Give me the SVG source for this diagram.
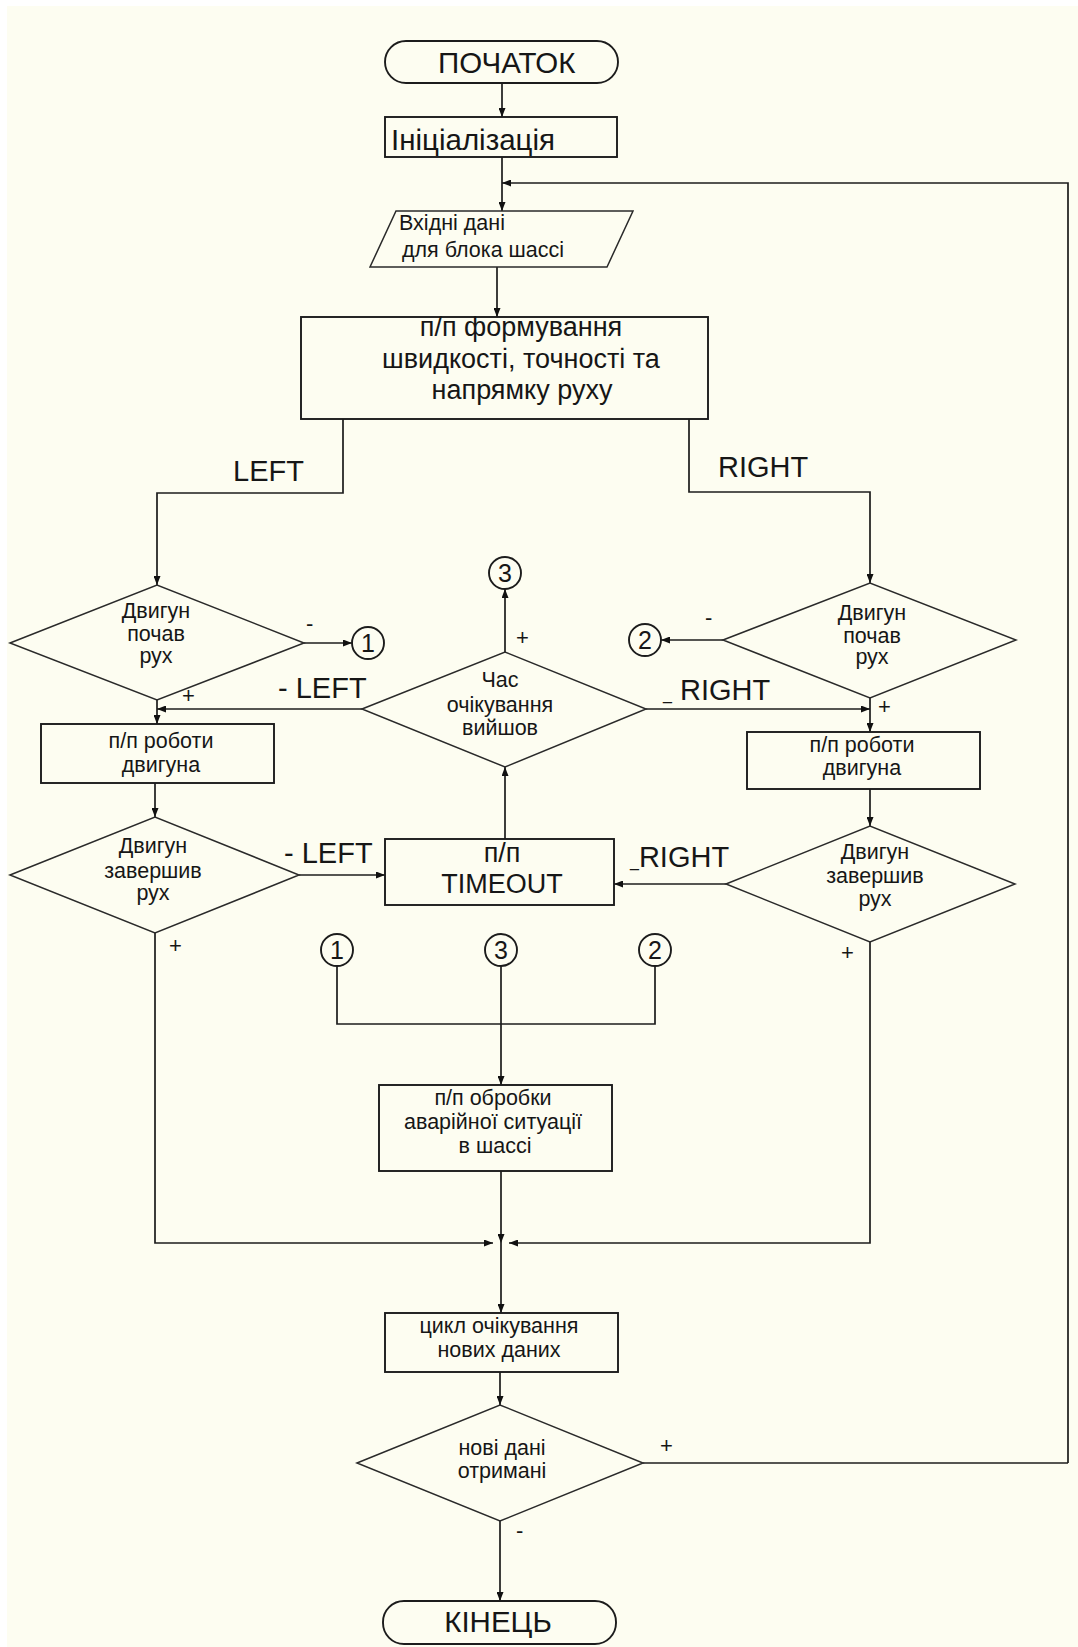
<svg xmlns="http://www.w3.org/2000/svg" width="1078" height="1647" viewBox="0 0 1078 1647">
  <defs>
    <marker id="ah" viewBox="0 0 9 7" refX="9" refY="3.5" markerWidth="9" markerHeight="7" markerUnits="userSpaceOnUse" orient="auto">
      <path d="M0,0 L9,3.5 L0,7 z" fill="#111"/>
    </marker>
    <style>
      .box { fill: none; stroke: #1c1c1c; stroke-width: 1.9; }
      .dec { fill: none; stroke: #2a2a2a; stroke-width: 1.5; }
      .con { fill: none; stroke: #1c1c1c; stroke-width: 1.7; }
      .arr { marker-end: url(#ah); }
      text { font-family: "Liberation Sans", Arial, sans-serif; fill: #161616; }
      .big { font-size: 29.5px; }
      .mid { font-size: 27px; }
      .sm  { font-size: 21.5px; }
      .lbl { font-size: 29px; }
      .sg  { font-size: 22px; }
      .num { font-size: 25px; }
      .c { text-anchor: middle; }
    </style>
  </defs>

  <!-- page -->
  <rect x="0" y="0" width="1078" height="1647" fill="#ffffff"/>
  <rect x="7" y="6" width="1071" height="1641" fill="#fdfdf1"/>

  <!-- connectors -->
  <g id="connectors">
    <path class="con arr" d="M502,83 V117"/>
    <path class="con arr" d="M502,157 V211"/>
    <path class="con arr" d="M1068,1463 V183 H502"/>
    <path class="con arr" d="M497,267 V317"/>
    <path class="con arr" d="M343,419 V493 H157 V585"/>
    <path class="con arr" d="M689,419 V492 H870 V583"/>
    <path class="con arr" d="M304,643 H352"/>
    <path class="con arr" d="M723,640 H661"/>
    <path class="con arr" d="M505,652 V589"/>
    <path class="con arr" d="M362,709 H157"/>
    <path class="con arr" d="M646,709 H870"/>
    <path class="con arr" d="M157,700 V724"/>
    <path class="con arr" d="M870,698 V732"/>
    <path class="con arr" d="M155,783 V817"/>
    <path class="con arr" d="M870,789 V826"/>
    <path class="con arr" d="M299,875 H385"/>
    <path class="con arr" d="M726,884 H614"/>
    <path class="con arr" d="M505,839 V767"/>
    <path class="con" d="M337,966 V1024 H655 V966"/>
    <path class="con arr" d="M501,966 V1085"/>
    <path class="con arr" d="M501,1171 V1243"/>
    <path class="con arr" d="M155,933 V1243 H493"/>
    <path class="con arr" d="M870,942 V1243 H509"/>
    <path class="con arr" d="M501,1243 V1313"/>
    <path class="con arr" d="M500,1372 V1405"/>
    <path class="con" d="M643,1463 H1068"/>
    <path class="con arr" d="M500,1521 V1601"/>

    <!-- branch labels -->
    <text class="lbl" x="233" y="481">LEFT</text>
    <text class="lbl" x="718" y="477">RIGHT</text>
    <text class="sg" x="306" y="631">-</text>
    <text class="sg" x="705" y="625">-</text>
    <text class="sg" x="182" y="703">+</text>
    <text class="sg" x="878" y="714">+</text>
    <text class="sg" x="516" y="645">+</text>
    <text class="lbl" x="278" y="698">- LEFT</text>
    <text class="lbl" x="663" y="700"><tspan font-size="16px">_</tspan> RIGHT</text>
    <text class="lbl" x="284" y="863">- LEFT</text>
    <text class="lbl" x="630" y="867"><tspan font-size="16px">_</tspan>RIGHT</text>
    <text class="sg" x="169" y="953">+</text>
    <text class="sg" x="841" y="960">+</text>
    <text class="sg" x="660" y="1453">+</text>
    <text class="sg" x="516" y="1538">-</text>
  </g>

  <g id="start">
    <rect class="box" x="385" y="41" width="233" height="42" rx="21" ry="21"/>
    <text class="big" x="438" y="73">ПОЧАТОК</text>
  </g>

  <g id="init">
    <rect class="box" x="385" y="117" width="232" height="40"/>
    <text class="big" x="391" y="150">Ініціалізація</text>
  </g>

  <g id="input">
    <path class="dec" d="M396,211 H633 L607,267 H370 Z"/>
    <text class="sm" x="399" y="230">Вхідні дані</text>
    <text class="sm" x="402" y="257">для блока шассі</text>
  </g>

  <g id="shaping">
    <rect class="box" x="301" y="317" width="407" height="102"/>
    <text class="mid c" x="521" y="336">п/п формування</text>
    <text class="mid c" x="521" y="368">швидкості, точності та</text>
    <text class="mid c" x="522" y="399">напрямку руху</text>
  </g>

  <g id="left-started">
    <path class="dec" d="M10,643 L157,585 L304,643 L157,700 Z"/>
    <text class="sm c" x="156" y="618">Двигун</text>
    <text class="sm c" x="156" y="641">почав</text>
    <text class="sm c" x="156" y="663">рух</text>
  </g>

  <g id="right-started">
    <path class="dec" d="M723,640 L870,583 L1016,640 L870,698 Z"/>
    <text class="sm c" x="872" y="620">Двигун</text>
    <text class="sm c" x="872" y="643">почав</text>
    <text class="sm c" x="872" y="664">рух</text>
  </g>

  <g id="wait-expired">
    <path class="dec" d="M362,709 L505,652 L646,709 L505,767 Z"/>
    <text class="sm c" x="500" y="687">Час</text>
    <text class="sm c" x="500" y="712">очікування</text>
    <text class="sm c" x="500" y="735">вийшов</text>
  </g>

  <g id="conn-1-out">
    <circle class="box" cx="368" cy="643" r="16"/>
    <text class="num c" x="368" y="652">1</text>
  </g>
  <g id="conn-2-out">
    <circle class="box" cx="645" cy="640" r="16"/>
    <text class="num c" x="645" y="649">2</text>
  </g>
  <g id="conn-3-out">
    <circle class="box" cx="505" cy="573" r="16"/>
    <text class="num c" x="505" y="582">3</text>
  </g>

  <g id="left-motor">
    <rect class="box" x="41" y="724" width="233" height="59"/>
    <text class="sm c" x="161" y="748">п/п роботи</text>
    <text class="sm c" x="161" y="772">двигуна</text>
  </g>

  <g id="right-motor">
    <rect class="box" x="747" y="732" width="233" height="57"/>
    <text class="sm c" x="862" y="752">п/п роботи</text>
    <text class="sm c" x="862" y="775">двигуна</text>
  </g>

  <g id="left-finished">
    <path class="dec" d="M10,875 L155,817 L299,875 L155,933 Z"/>
    <text class="sm c" x="153" y="853">Двигун</text>
    <text class="sm c" x="153" y="878">завершив</text>
    <text class="sm c" x="153" y="900">рух</text>
  </g>

  <g id="right-finished">
    <path class="dec" d="M726,884 L870,826 L1015,884 L870,942 Z"/>
    <text class="sm c" x="875" y="859">Двигун</text>
    <text class="sm c" x="875" y="883">завершив</text>
    <text class="sm c" x="875" y="906">рух</text>
  </g>

  <g id="timeout">
    <rect class="box" x="385" y="839" width="229" height="66"/>
    <text class="mid c" x="502" y="862">п/п</text>
    <text class="mid c" x="502" y="893">TIMEOUT</text>
  </g>

  <g id="conn-1-in">
    <circle class="box" cx="337" cy="950" r="16"/>
    <text class="num c" x="337" y="959">1</text>
  </g>
  <g id="conn-3-in">
    <circle class="box" cx="501" cy="950" r="16"/>
    <text class="num c" x="501" y="959">3</text>
  </g>
  <g id="conn-2-in">
    <circle class="box" cx="655" cy="950" r="16"/>
    <text class="num c" x="655" y="959">2</text>
  </g>

  <g id="emergency">
    <rect class="box" x="379" y="1085" width="233" height="86"/>
    <text class="sm c" x="493" y="1105">п/п обробки</text>
    <text class="sm c" x="493" y="1129">аварійної ситуації</text>
    <text class="sm c" x="495" y="1153">в шассі</text>
  </g>

  <g id="wait-loop">
    <rect class="box" x="385" y="1313" width="233" height="59"/>
    <text class="sm c" x="499" y="1333">цикл очікування</text>
    <text class="sm c" x="499" y="1357">нових даних</text>
  </g>

  <g id="new-data">
    <path class="dec" d="M357,1463 L500,1405 L643,1463 L500,1521 Z"/>
    <text class="sm c" x="502" y="1455">нові дані</text>
    <text class="sm c" x="502" y="1478">отримані</text>
  </g>

  <g id="end">
    <rect class="box" x="383" y="1601" width="233" height="43" rx="21" ry="21"/>
    <text class="big c" x="498" y="1632">КІНЕЦЬ</text>
  </g>
</svg>
